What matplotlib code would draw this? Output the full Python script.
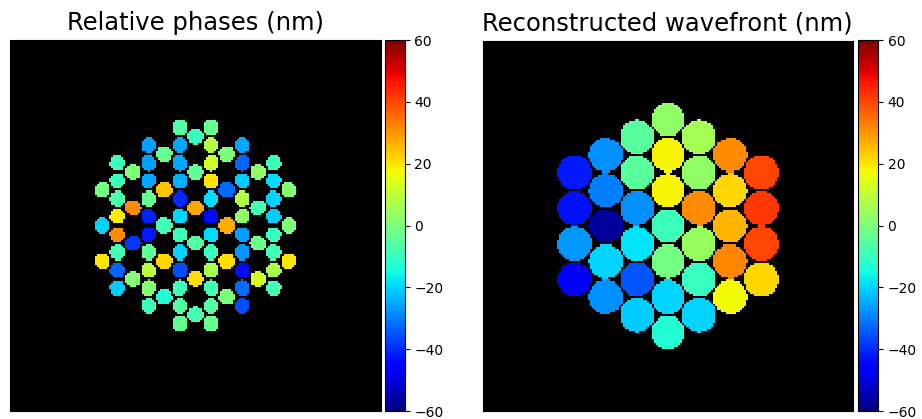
import numpy as np
import matplotlib
matplotlib.use("Agg")
import matplotlib.pyplot as plt

# segment pistons (nm), columns left to right, each column top to bottom
segment_nm = [
    -42, -43, -27, -47,
    -28, -30, -57, -20, -28,
    -5, -5, -28, -18, -35, -21,
    3, 18, 18, -9, -1, -20, -13,
    6, 3, 31, 4, -10, -20,
    31, 22, 26, 32, 17,
    40, 42, 40, 22,
]

# relative phases between neighbouring segments (nm),
# dot rows top to bottom, each row left to right
relative_nm = [
    -6, -3,
    -10,
    -26, -25, 8, -25,
    -3, 0,
    -9, -26, -25, 12, -33, -9,
    0, -4, 3,
    -9, -25, -24, 20, -21, -19,
    -1, 24, -32, 1,
    -7, -3, -40, -19, 8, -20,
    31, 28, -8,
    19, -41, -20, -44, 3, -21,
    -20, -8, 27, 0,
    31, -42, -9, -19, -26, -10,
    -38, -6, -2,
    -8, -4, -20, -9, -27, -8,
    20, 22, 21, 20,
    -33, 9, -36, 7, -44, 7,
    1, 21, 13,
    -21, 1, -9, -8, -32, -8,
    -13, 0,
    -9, -6, -6, -36,
    -8,
    -4, -3,
]

titles = ["Relative phases (nm)", "Reconstructed wavefront (nm)"]
cbar_ticks = [-60, -40, -20, 0, 20, 40, 60]

# image grid / segment geometry (pixels)
N = 180
PITCH = 0.0961 * N
COL_DX = PITCH * 0.875
SEG_R = 0.48 * PITCH
DOT_R = 0.021 * N


def hex_centres(rings=3):
    pts = []
    for q in range(-rings, rings + 1):
        for r in range(-rings, rings + 1):
            if max(abs(q), abs(r), abs(q + r)) <= rings:
                pts.append((N / 2 + q * COL_DX, N / 2 + (r + q / 2) * PITCH))
    pts = np.array(pts)
    order = np.lexsort((pts[:, 1], np.round(pts[:, 0], 3)))
    return pts[order]


def edge_midpoints(pts):
    mids = []
    for i in range(len(pts)):
        for j in range(i + 1, len(pts)):
            if np.hypot(*(pts[i] - pts[j])) < 1.1 * PITCH:
                mids.append((pts[i] + pts[j]) / 2)
    mids = np.array(mids)
    row = np.round(4 * mids[:, 1] / PITCH)
    order = np.lexsort((mids[:, 0], row))
    return mids[order]


def rasterize(centres, values, radius):
    img = np.full((N, N), np.nan)
    yy, xx = np.mgrid[0:N, 0:N] + 0.5
    for (cx, cy), v in zip(centres, values):
        img[(xx - cx) ** 2 + (yy - cy) ** 2 <= radius ** 2] = v
    return img


seg = hex_centres()
mids = edge_midpoints(seg)
images = [rasterize(mids, relative_nm, DOT_R), rasterize(seg, segment_nm, SEG_R)]

cmap = plt.get_cmap("jet").copy()
cmap.set_bad("black")

fig = plt.figure(figsize=(9.22, 4.19), dpi=100)
axes_pos = [[0.0103, 0.019, 0.4035, 0.8854], [0.5235, 0.019, 0.4013, 0.8854]]
cbar_pos = [[0.4181, 0.019, 0.0208, 0.8854], [0.9306, 0.019, 0.0215, 0.8854]]

for img, title, apos, cpos in zip(images, titles, axes_pos, cbar_pos):
    ax = fig.add_axes(apos)
    im = ax.imshow(np.ma.masked_invalid(img), cmap=cmap, vmin=-60, vmax=60,
                   interpolation="nearest", extent=(0, N, N, 0))
    ax.set_facecolor("black")
    ax.set_xticks([])
    ax.set_yticks([])
    ax.set_title(title, fontsize=17.5, pad=7)
    cax = fig.add_axes(cpos)
    cb = fig.colorbar(im, cax=cax, ticks=cbar_ticks)
    cb.ax.tick_params(labelsize=10)

fig.savefig("out.png", dpi=100)
